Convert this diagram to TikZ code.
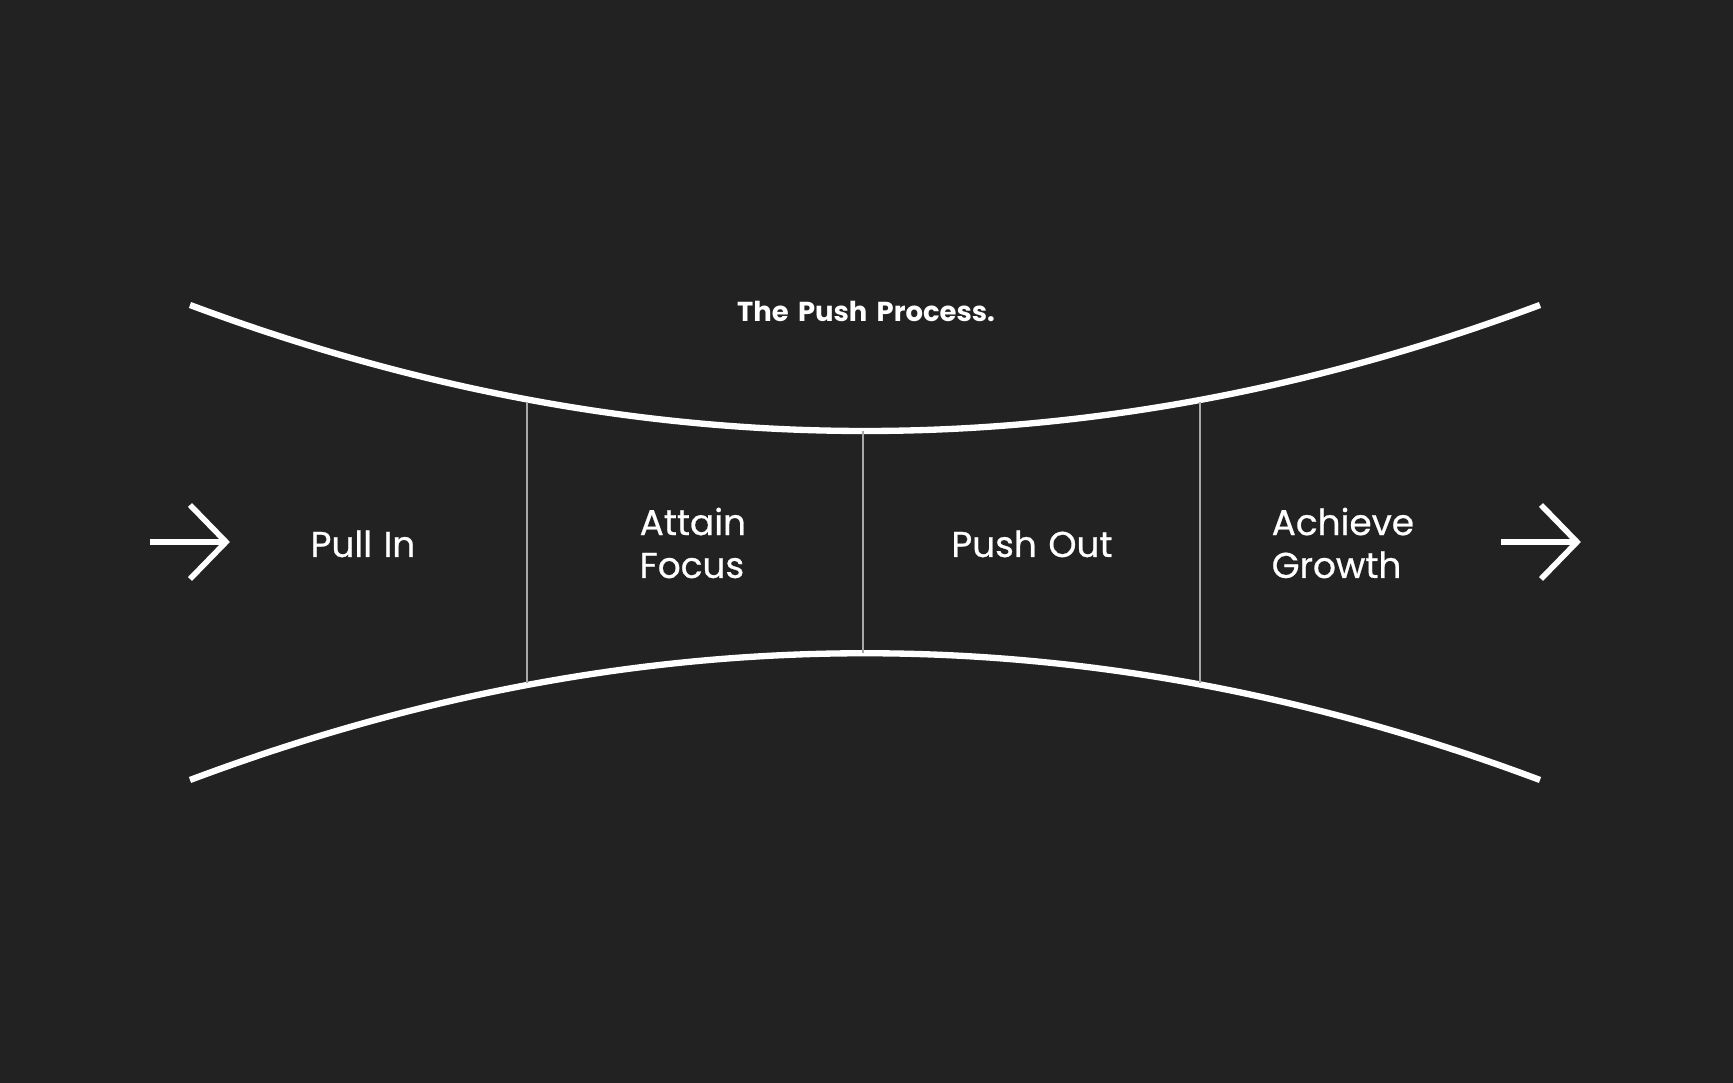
\documentclass[tikz,border=0pt]{standalone}
\usepackage{fontspec}
\setmainfont{Poppins}[WordSpace=1.6]
\newfontfamily\stagefont{Poppins}[FakeBold=0.7, WordSpace=1.2]
\usepackage{tikz}
\usetikzlibrary{positioning}
\definecolor{backdrop}{HTML}{222222}
\definecolor{rule}{HTML}{A8A8A8}

\begin{document}
\begin{tikzpicture}[x=0.01cm, y=-0.01cm,
  rim/.style={draw=white, line width=1.8pt},
  divider/.style={draw=rule, line width=0.45pt},
  pointer/.style={draw=white, line width=1.6pt, line join=miter},
  stage/.style={text=white, font=\stagefont\fontsize{10.2}{12.2}\selectfont, align=left, inner sep=0pt},
  heading/.style={text=white, font=\fontsize{7.8}{9}\selectfont\bfseries, inner sep=0pt}]
  \fill[backdrop] (0,0) rectangle (1733,1083);
  \useasboundingbox (0,0) rectangle (1733,1083);

  % funnel edges
  \coordinate (tl) at (190,305);  \coordinate (tr) at (1540,305);
  \coordinate (bl) at (190,780);  \coordinate (br) at (1540,780);
  \path[rim] (tl) .. controls (640,473) and (1090,473) .. (tr);
  \path[rim] (bl) .. controls (640,611) and (1090,611) .. (br);

  % dividers
  \coordinate (d1t) at (527,402);  \coordinate (d1b) at (527,683);
  \coordinate (d2t) at (863,431);  \coordinate (d2b) at (863,653);
  \coordinate (d3t) at (1200,402); \coordinate (d3b) at (1200,683);
  \path[divider] (d1t) -- (d1b) (d2t) -- (d2b) (d3t) -- (d3b);

  % labels
  \node[heading] (title) at (866,311) {The Push Process.};
  \node[stage, anchor=base] (pull) at (363,557) {Pull In};
  \node[stage, anchor=west] (focus) at (639,543) {Attain\\Focus};
  \node[stage, anchor=base] (push) at (1032,557) {Push Out};
  \node[stage, anchor=west] (growth) at (1271,543) {Achieve\\Growth};

  % arrows
  \coordinate (inA) at (150,542);  \coordinate (inB) at (226,542);
  \coordinate (outA) at (1501,542); \coordinate (outB) at (1577,542);
  \path[pointer] (inA) -- (inB) (190,505) -- (inB) -- (190,579);
  \path[pointer] (outA) -- (outB) (1541,505) -- (outB) -- (1541,579);
\end{tikzpicture}
\end{document}
